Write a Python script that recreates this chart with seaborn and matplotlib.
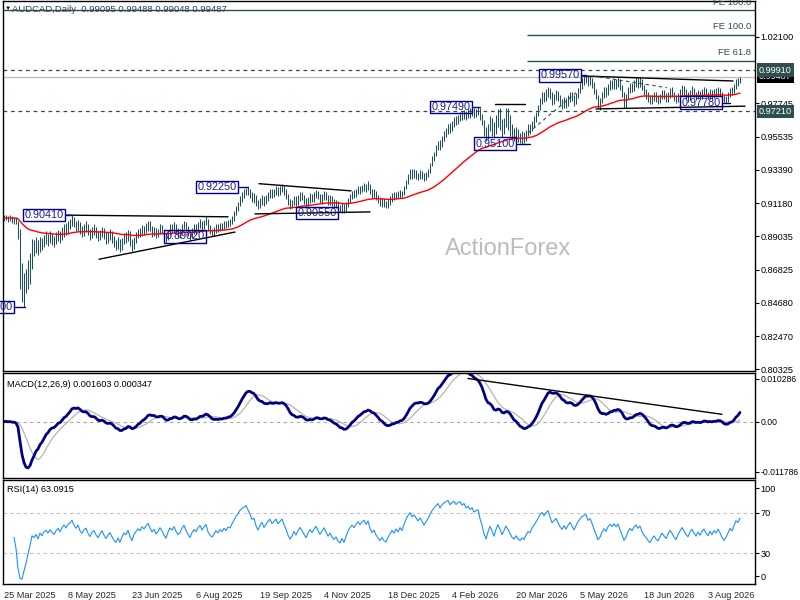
import numpy as np
import pandas as pd
import matplotlib
matplotlib.use('Agg')
import matplotlib.pyplot as plt
import matplotlib.transforms as mtransforms
import seaborn as sns

# daily bars, prices in 1e-4 units
closes = [
    9022, 9030, 9012, 9028, 9008, 9016, 8998, 8905, 8620, 8560,
    8600, 8640, 8700, 8760, 8850, 8830, 8860, 8810, 8870, 8840,
    8880, 8900, 8870, 8905, 8880, 8860, 8895, 8920, 8890, 8930,
    8960, 8935, 8975, 8990, 9020, 8985, 8960, 8990, 8945, 8925,
    8955, 8970, 8930, 8900, 8935, 8950, 8915, 8890, 8920, 8945,
    8910, 8880, 8905, 8925, 8890, 8860, 8840, 8870, 8830, 8870,
    8900, 8885, 8920, 8870, 8830, 8880, 8905, 8930, 8915, 8950,
    8935, 8960, 8985, 8955, 8925, 8945, 8910, 8930, 8960, 8940,
    8905, 8880, 8925, 8960, 8945, 8975, 8940, 8915, 8930, 8965,
    8990, 8955, 8925, 8900, 8935, 8960, 8945, 8975, 8995, 8965,
    8990, 9010, 8960, 8935, 8920, 8940, 8965, 8950, 8975, 8960,
    8985, 8970, 8995, 8990, 9020, 9050, 9085, 9110, 9150, 9175,
    9190, 9215, 9195, 9175, 9150, 9160, 9120, 9095, 9130, 9155,
    9125, 9150, 9175, 9195, 9170, 9190, 9210, 9185, 9205, 9225,
    9195, 9170, 9130, 9100, 9120, 9150, 9125, 9155, 9180, 9160,
    9135, 9110, 9140, 9165, 9145, 9170, 9190, 9165, 9140, 9160,
    9185, 9160, 9130, 9150, 9125, 9105, 9120, 9090, 9075, 9100,
    9070, 9105, 9140, 9165, 9185, 9170, 9195, 9215, 9200, 9220,
    9235, 9215, 9240, 9200, 9175, 9190, 9160, 9140, 9120, 9140,
    9115, 9105, 9130, 9150, 9170, 9155, 9180, 9165, 9190, 9175,
    9215, 9255, 9290, 9320, 9300, 9320, 9305, 9290, 9315, 9300,
    9280, 9305, 9330, 9370, 9410, 9440, 9480, 9510, 9490, 9540,
    9570, 9595, 9620, 9600, 9640, 9665, 9650, 9680, 9700, 9685,
    9710, 9690, 9715, 9700, 9725, 9705, 9720, 9730, 9690, 9655,
    9600, 9560, 9610, 9660, 9625, 9580, 9640, 9690, 9650, 9600,
    9640, 9690, 9660, 9620, 9580, 9560, 9590, 9555, 9540, 9560,
    9545, 9580, 9610, 9600, 9640, 9670, 9700, 9740, 9790, 9820,
    9800, 9840, 9870, 9830, 9790, 9815, 9840, 9810, 9780, 9760,
    9795, 9770, 9805, 9835, 9810, 9780, 9820, 9860, 9890, 9920,
    9935, 9945, 9910, 9930, 9900, 9860, 9820, 9770, 9790, 9830,
    9860, 9840, 9880, 9905, 9890, 9915, 9895, 9920, 9880, 9840,
    9790, 9815, 9860, 9890, 9870, 9905, 9925, 9900, 9920, 9880,
    9850, 9830, 9805, 9785, 9810, 9830, 9805, 9790, 9815, 9840,
    9820, 9800, 9830, 9855, 9835, 9810, 9790, 9820, 9845, 9870,
    9850, 9825, 9810, 9840, 9860, 9835, 9815, 9840, 9820, 9845,
    9860, 9835, 9820, 9845, 9825, 9850, 9835, 9860, 9840, 9810,
    9790, 9805, 9830, 9860, 9845, 9880, 9920, 9910, 9949,
]
highs = [
    9041, 9044, 9036, 9040, 9034, 9030, 9028, 9005, 8950, 8730,
    8660, 8690, 8745, 8790, 8885, 8880, 8895, 8880, 8900, 8890,
    8910, 8935, 8920, 8940, 8925, 8905, 8930, 8945, 8935, 8960,
    8985, 8990, 9000, 9015, 9041, 9030, 9000, 9010, 8995, 8970,
    8985, 9000, 8985, 8950, 8960, 8980, 8965, 8935, 8945, 8965,
    8955, 8930, 8930, 8950, 8940, 8905, 8880, 8895, 8885, 8890,
    8925, 8930, 8945, 8935, 8885, 8900, 8930, 8950, 8955, 8975,
    8970, 8990, 9005, 9000, 8970, 8965, 8955, 8950, 8980, 8975,
    8950, 8925, 8945, 8980, 8985, 8995, 8985, 8955, 8950, 8985,
    9005, 8995, 8970, 8940, 8955, 8985, 8980, 8995, 9015, 9005,
    9010, 9032, 9015, 8975, 8950, 8960, 8980, 8985, 8990, 8990,
    9000, 9000, 9010, 9015, 9035, 9065, 9100, 9125, 9165, 9195,
    9210, 9222, 9225, 9215, 9190, 9185, 9170, 9140, 9150, 9170,
    9165, 9175, 9190, 9210, 9210, 9215, 9230, 9225, 9230, 9245,
    9235, 9210, 9180, 9145, 9140, 9165, 9165, 9175, 9195, 9190,
    9175, 9150, 9160, 9185, 9180, 9190, 9205, 9200, 9180, 9180,
    9200, 9195, 9175, 9170, 9165, 9145, 9140, 9135, 9110, 9120,
    9115, 9125, 9155, 9180, 9200, 9205, 9215, 9230, 9235, 9240,
    9250, 9245, 9262, 9245, 9215, 9210, 9200, 9175, 9160, 9155,
    9150, 9135, 9145, 9165, 9185, 9190, 9195, 9200, 9205, 9200,
    9230, 9270, 9310, 9345, 9340, 9340, 9335, 9320, 9335, 9330,
    9315, 9325, 9345, 9385, 9430, 9455, 9500, 9530, 9535, 9560,
    9590, 9610, 9640, 9645, 9660, 9685, 9690, 9700, 9720, 9725,
    9730, 9725, 9735, 9740, 9742, 9740, 9738, 9749, 9740, 9705,
    9665, 9620, 9640, 9690, 9680, 9650, 9700, 9735, 9740, 9670,
    9680, 9745, 9740, 9700, 9640, 9610, 9620, 9605, 9580, 9590,
    9585, 9600, 9635, 9640, 9660, 9690, 9720, 9760, 9810, 9845,
    9850, 9865, 9880, 9875, 9845, 9835, 9860, 9855, 9825, 9800,
    9815, 9810, 9825, 9850, 9850, 9825, 9840, 9875, 9910, 9940,
    9950, 9957, 9950, 9950, 9940, 9915, 9870, 9830, 9810, 9850,
    9880, 9880, 9900, 9925, 9925, 9935, 9935, 9945, 9930, 9895,
    9850, 9835, 9880, 9905, 9910, 9925, 9945, 9940, 9945, 9935,
    9895, 9870, 9850, 9830, 9830, 9850, 9845, 9825, 9835, 9860,
    9860, 9840, 9850, 9875, 9880, 9850, 9830, 9840, 9870, 9895,
    9890, 9865, 9845, 9860, 9885, 9875, 9850, 9860, 9855, 9865,
    9880, 9875, 9850, 9865, 9860, 9870, 9875, 9880, 9875, 9850,
    9825, 9820, 9845, 9875, 9880, 9900, 9935, 9940, 9949,
]
lows = [
    9004, 9008, 8998, 9002, 8990, 8985, 8980, 8885, 8560, 8470,
    8440, 8530, 8560, 8590, 8690, 8770, 8790, 8780, 8800, 8810,
    8830, 8850, 8840, 8860, 8845, 8830, 8850, 8870, 8860, 8880,
    8900, 8910, 8920, 8950, 8970, 8960, 8935, 8940, 8920, 8895,
    8905, 8930, 8910, 8880, 8890, 8910, 8890, 8870, 8875, 8900,
    8885, 8855, 8860, 8880, 8860, 8830, 8815, 8820, 8800, 8815,
    8855, 8860, 8870, 8840, 8805, 8820, 8860, 8890, 8895, 8905,
    8910, 8925, 8940, 8935, 8900, 8905, 8890, 8895, 8920, 8915,
    8880, 8865, 8875, 8910, 8925, 8930, 8920, 8895, 8890, 8920,
    8950, 8935, 8905, 8880, 8890, 8920, 8920, 8930, 8955, 8945,
    8950, 8975, 8940, 8915, 8905, 8902, 8925, 8930, 8935, 8945,
    8950, 8955, 8960, 8970, 8980, 9005, 9040, 9070, 9100, 9130,
    9150, 9170, 9175, 9155, 9130, 9120, 9100, 9080, 9085, 9110,
    9100, 9115, 9135, 9150, 9150, 9160, 9170, 9165, 9170, 9190,
    9175, 9145, 9110, 9080, 9085, 9105, 9100, 9110, 9135, 9140,
    9115, 9090, 9100, 9120, 9125, 9130, 9150, 9145, 9120, 9115,
    9140, 9140, 9110, 9110, 9100, 9090, 9085, 9070, 9060, 9055,
    9055, 9060, 9095, 9120, 9145, 9150, 9160, 9180, 9180, 9190,
    9200, 9195, 9205, 9180, 9155, 9150, 9140, 9120, 9100, 9095,
    9095, 9085, 9090, 9110, 9130, 9140, 9145, 9150, 9155, 9160,
    9170, 9210, 9245, 9280, 9280, 9285, 9280, 9270, 9280, 9275,
    9265, 9270, 9290, 9320, 9365, 9395, 9430, 9465, 9470, 9485,
    9525, 9550, 9575, 9580, 9595, 9620, 9630, 9635, 9660, 9665,
    9670, 9665, 9680, 9675, 9690, 9680, 9685, 9695, 9665, 9630,
    9560, 9530, 9540, 9590, 9560, 9550, 9570, 9620, 9600, 9555,
    9570, 9620, 9600, 9560, 9540, 9525, 9535, 9520, 9512, 9510,
    9515, 9530, 9560, 9570, 9590, 9620, 9650, 9690, 9730, 9770,
    9780, 9790, 9815, 9805, 9765, 9770, 9795, 9790, 9755, 9735,
    9745, 9740, 9755, 9780, 9790, 9755, 9770, 9810, 9840, 9870,
    9895, 9905, 9890, 9895, 9875, 9835, 9800, 9745, 9730, 9775,
    9810, 9815, 9830, 9860, 9865, 9870, 9870, 9880, 9860, 9815,
    9745, 9740, 9800, 9840, 9845, 9855, 9880, 9875, 9880, 9860,
    9825, 9800, 9780, 9768, 9770, 9790, 9785, 9770, 9775, 9800,
    9800, 9780, 9785, 9810, 9815, 9790, 9775, 9780, 9800, 9825,
    9830, 9800, 9785, 9795, 9820, 9815, 9795, 9800, 9800, 9805,
    9825, 9815, 9800, 9805, 9805, 9810, 9815, 9820, 9820, 9790,
    9780, 9778, 9785, 9815, 9825, 9840, 9870, 9890, 9905,
]

date_labels = ['25 Mar 2025', '8 May 2025', '23 Jun 2025', '6 Aug 2025', '19 Sep 2025',
               '4 Nov 2025', '18 Dec 2025', '4 Feb 2026', '20 Mar 2026', '5 May 2026',
               '18 Jun 2026', '3 Aug 2026']
date_bars = [0, 32, 64, 96, 128, 160, 192, 224, 256, 288, 320, 352]

price_ticks = [1.02100, 0.97745, 0.95535, 0.93390, 0.91180, 0.89035, 0.86825,
               0.84680, 0.82470, 0.80325]

# swing labels: text, price, bar where the box ends, bar it points to
swing_text = ['0.84400', '0.90410', '0.89020', '0.92250', '0.90550',
              '0.97490', '0.95100', '0.99570', '0.97780']
swing_price = [0.8440, 0.9041, 0.8902, 0.9225, 0.9055, 0.9749, 0.9510, 0.9957, 0.9778]
swing_box_end = [5.5, 31, 101.5, 117.5, 167.5, 234.5, 256.5, 289, 359.5]
swing_bar = [10.5, 34, 101.5, 122, 167.5, 238, 263, 291, 363]

# trend lines drawn on the chart (bar, price) -> (bar, price)
trend_start = [(31, 0.9041), (47.5, 0.8752), (127.5, 0.9247), (125.5, 0.9049),
               (245.5, 0.9768), (289, 0.9953), (296, 0.9737)]
trend_end = [(112, 0.9030), (115.5, 0.8930), (173.5, 0.9200), (183, 0.9062),
             (260.5, 0.9768), (364.5, 0.9920), (370.5, 0.9755)]
dashed_start = [(262, 0.9579), (294.5, 0.9953)]
dashed_end = [(286, 0.9843), (331.5, 0.9876)]

fe_text = ['FE 100.0', 'FE 100.0', 'FE 61.8']
fe_price = [1.0382, 1.0223, 1.0052]
fe_from = [-0.5, 261.5, 261.5]

support_levels = [0.99910, 0.97210]
last_price = 0.99487
macd_trend = [(232, 0.00904), (359, 0.00154)]

sns.set_style('white')
plt.rcParams['font.family'] = ['Liberation Sans', 'DejaVu Sans']

idx = np.arange(len(closes))
c = pd.Series(closes, dtype=float) / 10000
h = np.array(highs) / 10000
l = np.array(lows) / 10000

ema55 = c.ewm(span=55, adjust=False).mean()
macd = c.ewm(span=12, adjust=False).mean() - c.ewm(span=26, adjust=False).mean()
signal = macd.rolling(9, min_periods=1).mean()
delta = c.diff()
up = delta.clip(lower=0).ewm(alpha=1 / 14, min_periods=5).mean()
down = (-delta.clip(upper=0)).ewm(alpha=1 / 14, min_periods=5).mean()
rsi = 100 - 100 / (1 + up / down)

W, H = 800, 600
fig = plt.figure(figsize=(8, 6), dpi=100)


def px_axes(x0, y0, x1, y1):
    return fig.add_axes([x0 / W, 1 - y1 / H, (x1 - x0) / W, (y1 - y0) / H])


ax = px_axes(3, 0.5, 754.5, 371)
ax_m = px_axes(3, 372.5, 754.5, 478)
ax_r = px_axes(3, 480, 754.5, 584)

bar_col = '#1f4e5f'
slate = '#2f4f4f'
navy = '#1c1c9c'
xlim = (-0.5, 375.25)

for a in (ax, ax_m, ax_r):
    a.set_xlim(*xlim)
    for s in a.spines.values():
        s.set_color('black')
        s.set_linewidth(1)
    a.yaxis.tick_right()
    a.tick_params(axis='y', direction='out', length=3, width=0.8, labelsize=6.6, pad=1.5,
                  colors='black')
    a.set_xticks([])
    a.grid(False)

# ---- price panel
ax.set_ylim(0.80195, 1.04475)
ax.vlines(idx, l, h, color=bar_col, lw=0.75, zorder=3)
sns.lineplot(x=idx, y=ema55.values, ax=ax, color='red', linewidth=1.0, zorder=4)

for lvl in support_levels:
    ax.axhline(lvl, color=slate, lw=0.9, dashes=(3, 3), zorder=2)
ax.axhline(last_price, color='#c0c0c0', lw=1, zorder=2)

for txt, p, x0 in zip(fe_text, fe_price, fe_from):
    ax.hlines(p, x0, xlim[1], color=slate, lw=1, zorder=2)
    ax.text(373.5, p + 0.0022, txt, ha='right', va='bottom', fontsize=6.8, color=slate)

for (x0, p0), (x1, p1) in zip(trend_start, trend_end):
    ax.plot([x0, x1], [p0, p1], color='black', lw=1, zorder=5)
for (x0, p0), (x1, p1) in zip(dashed_start, dashed_end):
    ax.plot([x0, x1], [p0, p1], color=slate, lw=0.8, dashes=(3, 3), zorder=5)

for txt, p, xe, xb in zip(swing_text, swing_price, swing_box_end, swing_bar):
    ax.text(xe - 1.2, p, txt, ha='right', va='center', fontsize=7.8, color=navy, zorder=6,
            bbox=dict(boxstyle='square,pad=0.12', fc='none', ec='#00008b', lw=1))
    if xb > xe:
        ax.plot([xe, xb], [p, p], color='#00008b', lw=1, zorder=6)

ax.text(252, 0.8818, 'ActionForex', ha='center', va='center', fontsize=17,
        color='#bcbcbc', zorder=1)

ax.set_yticks(price_ticks)
ax.set_yticklabels([f'{v:.5f}' for v in price_ticks])

trans = mtransforms.blended_transform_factory(ax.transAxes, ax.transData)
box_x = (759 - 3) / 751.5
ax.text(box_x, last_price, f'{last_price:.5f}', transform=trans, ha='left', va='center',
        fontsize=6.6, color='white', clip_on=False,
        bbox=dict(boxstyle='square,pad=0.25', fc='black', ec='none'))
for lvl in support_levels:
    ax.text(box_x, lvl, f'{lvl:.5f}', transform=trans, ha='left', va='center',
            fontsize=6.6, color='white', clip_on=False,
            bbox=dict(boxstyle='square,pad=0.25', fc=slate, ec='none'))

fig.text(5 / W, 1 - 8.5 / H, '\u25bc', fontsize=4.5, va='center', color='black')
fig.text(12 / W, 1 - 9 / H, 'AUDCAD,Daily  0.99095 0.99488 0.99048 0.99487',
         fontsize=6.8, va='center', color='#2c3e55')

# ---- MACD panel
ax_m.set_ylim(-0.011786, 0.010286)
ax_m.axhline(0, color='#a8a8a8', lw=0.8, dashes=(3, 3))
sns.lineplot(x=idx, y=signal.values, ax=ax_m, color='#b4b4b4', linewidth=0.9)
sns.lineplot(x=idx, y=macd.values, ax=ax_m, color='#000080', linewidth=2.0)
ax_m.plot([p[0] for p in macd_trend], [p[1] for p in macd_trend], color='black', lw=1)
ax_m.set_yticks([0.00893, 0.0, -0.01045])
ax_m.set_yticklabels(['0.010286', '0.00', '-0.011786'])
ax_m.tick_params(axis='y', labelsize=6.2)
ax_m.text(0.005, 0.93, 'MACD(12,26,9) 0.001603 0.000347', transform=ax_m.transAxes,
          fontsize=6.6, va='top', color='black')

# ---- RSI panel
ax_r.set_ylim(-0.4, 102.3)
for lvl in (70, 30):
    ax_r.axhline(lvl, color='#c0c0c0', lw=0.8, dashes=(3, 3))
sns.lineplot(x=idx, y=rsi.values, ax=ax_r, color='#1e90ff', linewidth=0.8)
ax_r.set_yticks([94.4, 70, 30, 7.5])
ax_r.set_yticklabels(['100', '70', '30', '0'])
ax_r.text(0.005, 0.95, 'RSI(14) 63.0915', transform=ax_r.transAxes, fontsize=6.6,
          va='top', color='black')
ax_r.set_xticks(date_bars)
ax_r.set_xticklabels(date_labels, ha='left')
ax_r.tick_params(axis='x', direction='out', length=3, width=0.8, labelsize=6.6, pad=2)

for a in (ax, ax_m, ax_r):
    a.set_xlabel('')
    a.set_ylabel('')

fig.savefig('out.png', dpi=100)
